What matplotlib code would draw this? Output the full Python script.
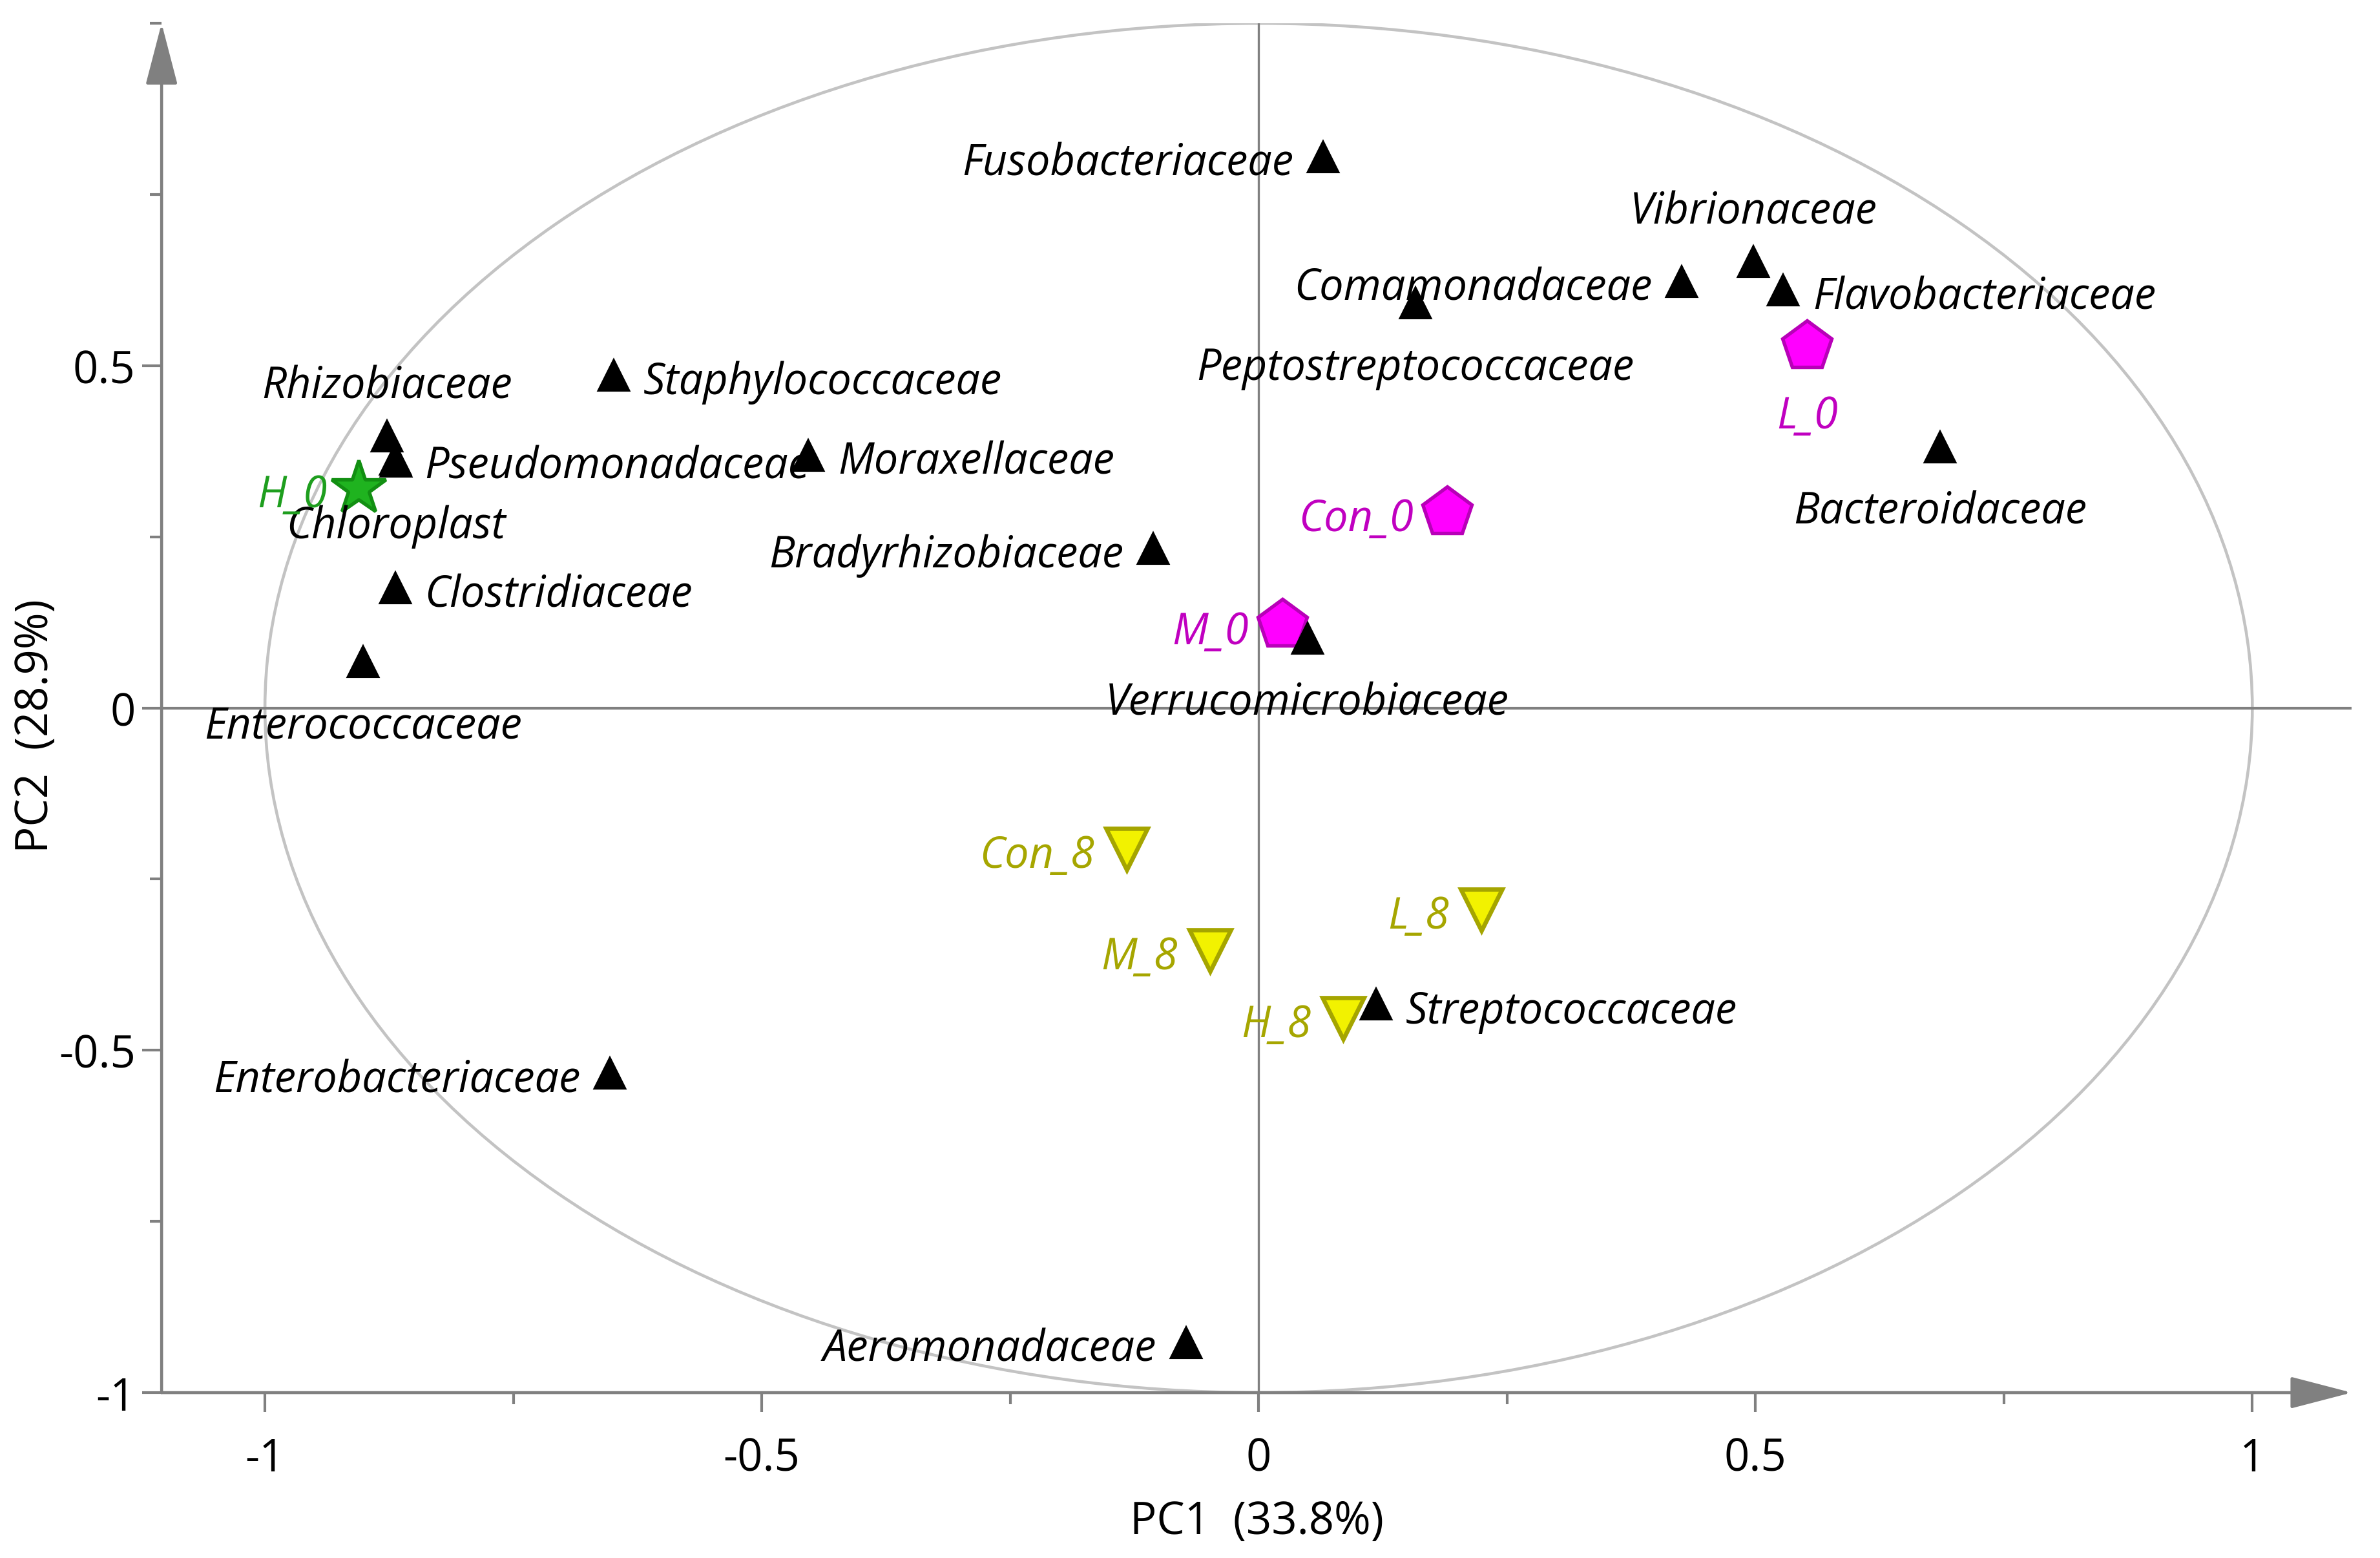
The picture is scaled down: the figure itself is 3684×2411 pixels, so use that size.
import matplotlib.pyplot as plt
from matplotlib.patches import Ellipse
from matplotlib.ticker import MultipleLocator

plt.rcParams['font.family'] = ['Open Sans', 'DejaVu Sans']

# bacterial families (loadings)
families = ['Fusobacteriaceae', 'Vibrionaceae', 'Comamonadaceae', 'Flavobacteriaceae',
            'Peptostreptococcaceae', 'Bacteroidaceae', 'Verrucomicrobiaceae', 'Bradyrhizobiaceae',
            'Staphylococcaceae', 'Moraxellaceae', 'Rhizobiaceae', 'Pseudomonadaceae',
            'Chloroplast', 'Clostridiaceae', 'Enterococcaceae', 'Enterobacteriaceae',
            'Aeromonadaceae', 'Streptococcaceae']
fam_pc1 = [0.065, 0.498, 0.426, 0.528, 0.158, 0.686, 0.049, -0.106, -0.649, -0.453,
           -0.877, -0.869, -0.868, -0.869, -0.901, -0.653, -0.073, 0.118]
fam_pc2 = [0.805, 0.652, 0.623, 0.610, 0.591, 0.381, 0.102, 0.233, 0.486, 0.369,
           0.397, 0.363, 0.360, 0.175, 0.068, -0.534, -0.927, -0.433]

# samples (scores)
day0_names = ['Con_0', 'L_0', 'M_0']
day0_pc1 = [0.190, 0.552, 0.024]
day0_pc2 = [0.286, 0.528, 0.121]

h0_names = ['H_0']
h0_pc1 = [-0.906]
h0_pc2 = [0.321]

day8_names = ['Con_8', 'L_8', 'M_8', 'H_8']
day8_pc1 = [-0.133, 0.224, -0.049, 0.085]
day8_pc2 = [-0.206, -0.295, -0.354, -0.453]

# where each label sits relative to its marker
fam_side = ['left', 'above', 'left', 'right', 'below', 'below', 'below', 'left',
            'right', 'right', 'above', 'right', 'below', 'right', 'below', 'left',
            'left', 'right']
day0_side = ['left', 'below', 'left']
offsets = {
    'left': ((-11, -2.5), 'right'),
    'right': ((11, -2.5), 'left'),
    'below': ((0, -24), 'center'),
    'above': ((0, 18.5), 'center'),
}

AXIS_GRAY = '#808080'


def put_label(ax, name, x, y, side, color, dx_extra=0, dy_extra=0):
    (dx, dy), ha = offsets[side]
    if side == 'left':
        dx -= dx_extra
    if side == 'below':
        dy -= dy_extra
    ax.annotate(name, (x, y), xytext=(dx, dy), textcoords='offset points',
                ha=ha, va='center', fontsize=16, style='italic', color=color,
                zorder=6)


fig = plt.figure(figsize=(12.28, 8.04), dpi=300)
ax = fig.add_axes([0.0679, 0.1061, 0.9202, 0.8785])
ax.set_xlim(-1.104, 1.1)
ax.set_ylim(-1.0, 1.0)

for s in ax.spines.values():
    s.set_visible(False)

# correlation circle and cross lines
ax.add_patch(Ellipse((0, 0), 2, 2, fill=False, ec='#c3c3c3', lw=1.1, zorder=1))
ax.axhline(0, color=AXIS_GRAY, lw=1.0, zorder=1)
ax.axvline(0, color=AXIS_GRAY, lw=0.8, zorder=1)

# axis lines with arrow heads
arrow = dict(arrowstyle='-|>,head_length=1.0,head_width=0.26', mutation_scale=20,
             color=AXIS_GRAY, lw=1.1, shrinkA=0, shrinkB=0)
ax.annotate('', xy=(-1.104, 1.0), xytext=(-1.104, -1.0), arrowprops=arrow,
            annotation_clip=False, zorder=2)
ax.annotate('', xy=(1.1, -1.0), xytext=(-1.104, -1.0), arrowprops=arrow,
            annotation_clip=False, zorder=2)

# samples
ax.plot(day0_pc1, day0_pc2, 'p', ms=19, mfc='#ff00ff', mec='#b800b8', mew=1.3,
        ls='none', zorder=3)
ax.plot(h0_pc1, h0_pc2, '*', ms=21, mfc='#1fb31f', mec='#128f12', mew=1.3,
        ls='none', zorder=3)
ax.plot(day8_pc1, day8_pc2, 'v', ms=15.5, mfc='#f2f200', mec='#a5a500', mew=1.6,
        ls='none', zorder=3)

# families
ax.plot(fam_pc1, fam_pc2, '^', ms=11, color='black', ls='none', zorder=4)

for n, x, y, sd in zip(families, fam_pc1, fam_pc2, fam_side):
    put_label(ax, n, x, y, sd, 'black')
for n, x, y, sd in zip(day0_names, day0_pc1, day0_pc2, day0_side):
    put_label(ax, n, x, y, sd, '#c000c0', dx_extra=1.5, dy_extra=2)
for n, x, y in zip(h0_names, h0_pc1, h0_pc2):
    put_label(ax, n, x, y, 'left', '#1e9e1e', dx_extra=0.5)
for n, x, y in zip(day8_names, day8_pc1, day8_pc2):
    put_label(ax, n, x, y, 'left', '#a6a600', dx_extra=1)

# ticks
ax.set_xticks([-1, -0.5, 0, 0.5, 1])
ax.set_xticklabels(['-1', '-0.5', '0', '0.5', '1'])
ax.set_yticks([-1, -0.5, 0, 0.5])
ax.set_yticklabels(['-1', '-0.5', '0', '0.5'])
ax.xaxis.set_minor_locator(MultipleLocator(0.25))
ax.yaxis.set_minor_locator(MultipleLocator(0.25))
ax.tick_params(which='major', direction='out', length=7.2, width=1.0, color=AXIS_GRAY,
               labelsize=16.5, labelcolor='black')
ax.tick_params(axis='x', which='major', pad=9)
ax.tick_params(axis='y', which='major', pad=2.5)
ax.tick_params(which='minor', direction='out', length=4.4, width=1.0, color=AXIS_GRAY)
ax.tick_params(top=False, right=False, which='both')

ax.set_xlabel('PC1  (33.8%)', fontsize=16.5)
ax.xaxis.set_label_coords(0.5, -0.078)
ax.set_ylabel('PC2  (28.9%)', fontsize=16.5)
ax.yaxis.set_label_coords(-0.047, 0.4875)

fig.savefig('out.png', dpi=300)
